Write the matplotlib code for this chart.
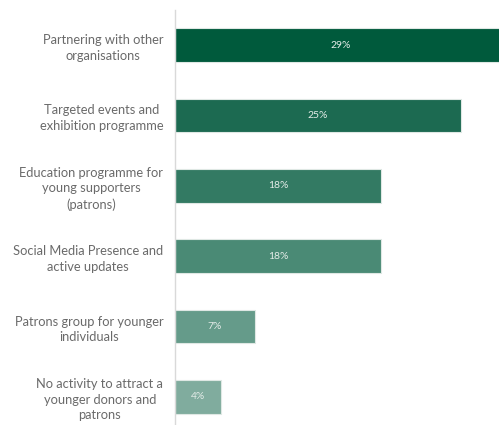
import matplotlib
matplotlib.use("Agg")
import matplotlib.pyplot as plt

categories = [
    "Partnering with other\norganisations",
    "Targeted events and\nexhibition programme",
    "Education programme for\nyoung supporters\n(patrons)",
    "Social Media Presence and\nactive updates",
    "Patrons group for younger\nindividuals",
    "No activity to attract a\nyounger donors and\npatrons",
]
values = [29, 25, 18, 18, 7, 4]
value_labels = ["29%", "25%", "18%", "18%", "7%", "4%"]
colors = ["#005a3c", "#1c6a51", "#337a63", "#4a8a75", "#659b8a", "#80ac9e"]

plt.rcParams["font.family"] = ["Lato", "DejaVu Sans"]

fig = plt.figure(figsize=(4.99, 4.25), dpi=100)
W, H = 499, 425
left_px, right_px, top_px, bottom_px = 175, 507, 10, 432
ax = fig.add_axes([left_px / W, (H - bottom_px) / H,
                   (right_px - left_px) / W, (bottom_px - top_px) / H])

y = list(range(len(categories)))
bars = ax.barh(y, values, height=0.48, color=colors,
               edgecolor="#dfe8e4", linewidth=0.8)
for yi, v, lab in zip(y, values, value_labels):
    ax.text(v / 2, yi, lab, ha="center", va="center",
            color="#e4ece8", fontsize=7.5)

ax.set_xlim(0, 29)
ax.set_ylim(len(categories) - 0.5, -0.5)
ax.set_yticks(y)
ax.set_yticklabels(categories, fontsize=9.3, color="#6a6a6a",
                   multialignment="center", linespacing=1.35)
ax.tick_params(axis="y", length=0, pad=8.5)
ax.set_xticks([])
for s in ["top", "right", "bottom"]:
    ax.spines[s].set_visible(False)
ax.spines["left"].set_color("#d9d9d9")
ax.spines["left"].set_linewidth(1.0)

fig.savefig("out.png", dpi=100)
